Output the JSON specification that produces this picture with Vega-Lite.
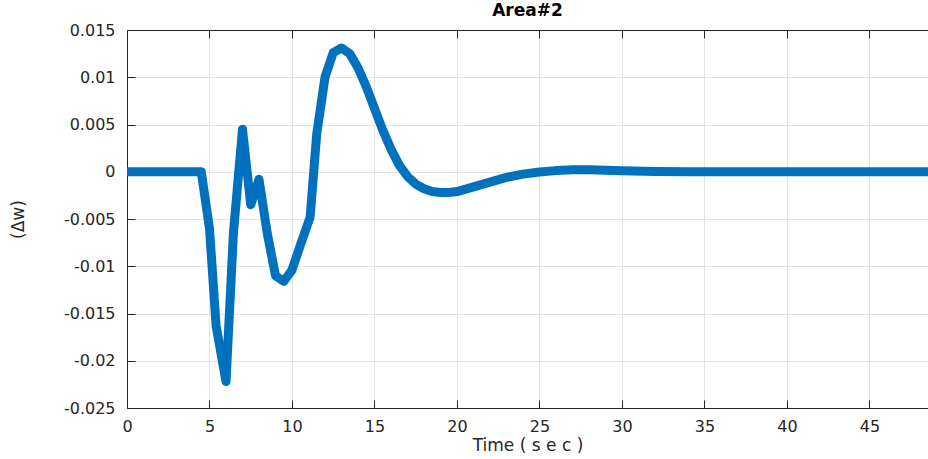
{
  "$schema": "https://vega.github.io/schema/vega-lite/v6.json",
  "autosize": {"type": "none"},
  "padding": {"left": 127, "top": 30, "right": 0, "bottom": 51},
  "width": 801,
  "height": 378,
  "background": "white",
  "title": {"text": "Area#2", "font": "DejaVu Sans", "fontSize": 17, "fontWeight": "bold", "color": "#000000", "offset": 2, "anchor": "middle"},
  "config": {
    "view": {"stroke": null},
    "axis": {"labelFont": "DejaVu Sans", "titleFont": "DejaVu Sans", "labelFontSize": 16, "titleFontSize": 17, "labelColor": "#262626", "titleColor": "#262626", "titleFontWeight": "normal", "domainColor": "#262626", "tickColor": "#262626", "gridColor": "#e5e5e5", "gridOpacity": 1, "domainWidth": 1, "tickWidth": 1, "labelFlush": false, "labelOverlap": false}
  },
  "data": {"values": [
    {"t": 0, "w": 0}, {"t": 4.5, "w": 0}, {"t": 5.0, "w": -0.006}, {"t": 5.4, "w": -0.0163},
    {"t": 6.0, "w": -0.0222}, {"t": 6.45, "w": -0.0065}, {"t": 7.0, "w": 0.0045}, {"t": 7.5, "w": -0.0035},
    {"t": 8.0, "w": -0.0008}, {"t": 8.5, "w": -0.0065}, {"t": 9.0, "w": -0.011}, {"t": 9.5, "w": -0.0116},
    {"t": 10.0, "w": -0.0104}, {"t": 10.5, "w": -0.0078}, {"t": 11.1, "w": -0.0048}, {"t": 11.5, "w": 0.004},
    {"t": 12.0, "w": 0.01}, {"t": 12.5, "w": 0.0126}, {"t": 13.0, "w": 0.0131}, {"t": 13.5, "w": 0.0125},
    {"t": 14.0, "w": 0.011}, {"t": 14.5, "w": 0.009}, {"t": 15.0, "w": 0.0067}, {"t": 15.5, "w": 0.0044},
    {"t": 16.0, "w": 0.0024}, {"t": 16.5, "w": 0.0007}, {"t": 17.0, "w": -0.0005}, {"t": 17.5, "w": -0.0013},
    {"t": 18.0, "w": -0.0018}, {"t": 18.5, "w": -0.0021}, {"t": 19.0, "w": -0.0022}, {"t": 19.5, "w": -0.0022},
    {"t": 20.0, "w": -0.0021}, {"t": 21.0, "w": -0.0016}, {"t": 22.0, "w": -0.0011}, {"t": 23.0, "w": -0.0006},
    {"t": 24.0, "w": -0.00025}, {"t": 25.0, "w": -0.00002}, {"t": 26.0, "w": 0.00012}, {"t": 27.0, "w": 0.0002},
    {"t": 28.0, "w": 0.0002}, {"t": 29.0, "w": 0.00015}, {"t": 30.0, "w": 0.0001}, {"t": 32.0, "w": 0.00003},
    {"t": 34.0, "w": 0}, {"t": 48.6, "w": 0}
  ]},
  "layer": [
    {
      "mark": {"type": "line", "color": "#0072BD", "strokeWidth": 9, "strokeJoin": "round", "strokeCap": "butt", "clip": true},
      "encoding": {
        "x": {"field": "t", "type": "quantitative", "scale": {"domain": [0, 48.55], "nice": false}, "axis": {"values": [0,5,10,15,20,25,30,35,40,45], "title": "Time ( s e c )", "tickSize": -8, "labelPadding": 18, "titleY": 29, "format": "d"}},
        "y": {"field": "w", "type": "quantitative", "scale": {"domain": [-0.025, 0.015], "nice": false, "zero": false}, "axis": {"values": [-0.025,-0.02,-0.015,-0.01,-0.005,0,0.005,0.01,0.015], "title": "(Δw)", "tickSize": -8, "labelPadding": 20, "titleX": -100, "format": "~g", "labelExpr": "replace(datum.label, '−', '-')"}}
      }
    },
    {
      "mark": {"type": "line", "opacity": 0},
      "encoding": {
        "x": {"field": "t", "type": "quantitative", "axis": {"orient": "top", "values": [0,5,10,15,20,25,30,35,40,45], "labels": false, "title": null, "grid": false, "tickSize": -8}},
        "y": {"field": "w", "type": "quantitative"}
      }
    }
  ],
  "resolve": {"axis": {"x": "independent"}}
}
